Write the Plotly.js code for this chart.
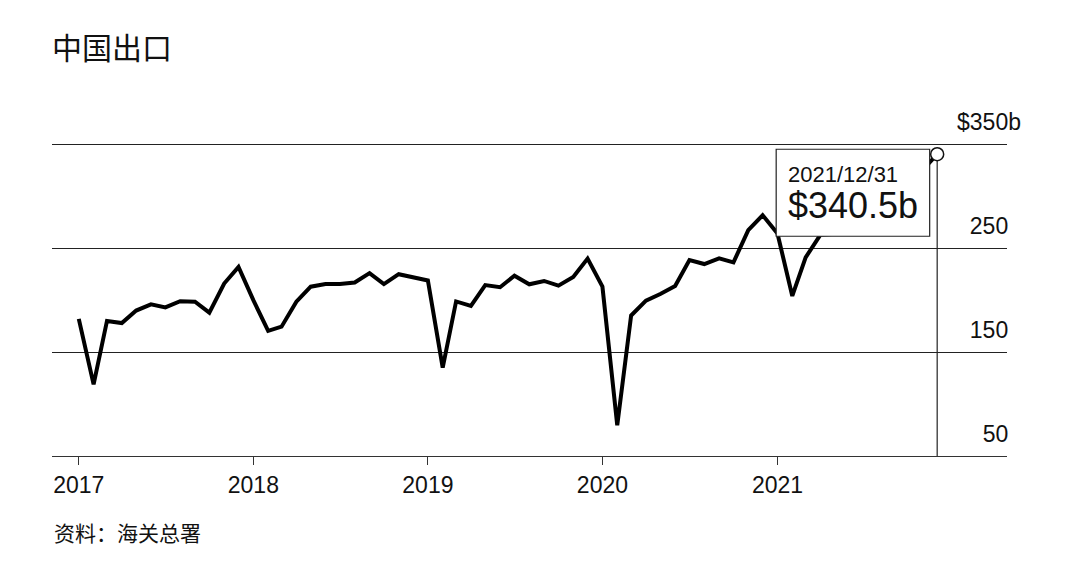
<!DOCTYPE html>
<html>
<head>
<meta charset="utf-8">
<script src="https://cdn.plot.ly/plotly-3.0.1.min.js"></script>
<style>html,body{margin:0;padding:0;background:#fff;}#chart{width:1080px;height:573px;}</style>
</head>
<body>
<div id="chart"></div>
<script>
// Monthly China exports, US$ billion, starting January 2017
const startYear = 2017;
const exportsBn = [
  182.0, 119.0, 180.0, 178.0, 190.0, 196.0, 193.0, 199.0, 198.5, 188.0, 216.0, 232.0,
  200.0, 170.5, 174.5, 198.5, 213.0, 215.5, 215.5, 217.0, 226.0, 215.5, 225.0, 222.0,
  219.0, 135.0, 198.8, 194.5, 214.5, 212.5, 223.5, 215.3, 218.5, 214.0, 222.3, 240.0,
  213.0,  79.6, 185.2, 199.6, 206.0, 213.7, 238.6, 234.8, 240.2, 236.4, 267.4, 281.8,
  264.2, 204.1, 241.2, 263.0, 264.0, 281.0, 283.0, 294.0, 305.7, 300.0, 325.5, 340.5
];
const yTickVals = [50, 150, 250, 350];
const yTickText = ['50\u2007', '150\u2007', '250\u2007', '$350b'];
const xTickYears = [2017, 2018, 2019, 2020, 2021];
const titleText = '中国出口';
const sourceText = '资料：海关总署';

const pad = n => String(n).padStart(2, '0');
const dates = exportsBn.map((_, i) => {
  const y = startYear + Math.floor(i / 12), m = (i % 12) + 1;
  return y + '-' + pad(m) + '-01';
});
const lastIdx = exportsBn.length - 1;
const lastDate = dates[lastIdx];
const lastVal = exportsBn[lastIdx];
const ly = startYear + Math.floor(lastIdx / 12), lm = (lastIdx % 12) + 1;
const lastDay = new Date(ly, lm, 0).getDate();
const lastLabel = ly + '/' + lm + '/' + lastDay;

const latin = '"Liberation Sans", Arial, "Noto Sans CJK SC", sans-serif';
const cjk = '"Noto Sans CJK SC", "Liberation Sans", sans-serif';

const traces = [
  {
    x: dates, y: exportsBn, type: 'scatter', mode: 'lines',
    line: {color: '#000', width: 4, shape: 'linear'},
    hoverinfo: 'skip'
  },
  {
    x: [lastDate], y: [lastVal], type: 'scatter', mode: 'markers',
    marker: {size: 13, color: '#fff', line: {color: '#111', width: 1.5}},
    hoverinfo: 'skip'
  }
];

const layout = {
  width: 1080, height: 573,
  margin: {l: 52, r: 73, t: 107.5, b: 116.5},
  paper_bgcolor: '#fff', plot_bgcolor: '#fff',
  showlegend: false,
  title: {
    text: titleText, font: {family: cjk, size: 30, color: '#111'},
    xref: 'paper', x: 0, xanchor: 'left',
    yref: 'container', y: 1 - 48 / 573, yanchor: 'middle'
  },
  xaxis: {
    type: 'date',
    range: ['2016-11-06', '2022-04-26'],
    tickvals: xTickYears.map(y => y + '-01-01'),
    ticktext: xTickYears.map(String),
    ticks: 'outside', ticklen: 8, tickwidth: 1.2, tickcolor: '#333',
    showline: true, linecolor: '#333', linewidth: 1.2,
    showgrid: false, zeroline: false,
    tickfont: {family: latin, size: 23, color: '#111'},
    fixedrange: true
  },
  yaxis: {
    range: [50, 385],
    side: 'right',
    tickvals: yTickVals, ticktext: yTickText,
    ticklabelposition: 'inside top',
    ticklabelshift: -6,
    ticklabelstandoff: -17,
    ticks: '', showline: false,
    showgrid: true, gridcolor: '#222', gridwidth: 1.2,
    zeroline: false,
    tickfont: {family: latin, size: 23, color: '#111'},
    fixedrange: true
  },
  shapes: [
    {
      type: 'line', layer: 'below', xref: 'x', yref: 'y',
      x0: lastDate, x1: lastDate, y0: 50, y1: lastVal,
      line: {color: '#222', width: 1.2}
    },
    {
      type: 'rect', layer: 'above',
      xref: 'x', xsizemode: 'pixel', xanchor: lastDate, x0: -161, x1: -7.5,
      yref: 'y', ysizemode: 'pixel', yanchor: lastVal, y0: -82, y1: 5,
      fillcolor: '#fff', line: {color: '#222', width: 1.2}
    }
  ],
  annotations: [
    {
      xref: 'x', yref: 'y', x: lastDate, y: lastVal, showarrow: false,
      xanchor: 'left', yanchor: 'middle', xshift: -151, yshift: -20,
      text: lastLabel, font: {family: latin, size: 22, color: '#111'}
    },
    {
      xref: 'x', yref: 'y', x: lastDate, y: lastVal, showarrow: false,
      xanchor: 'left', yanchor: 'middle', xshift: -151, yshift: -51,
      text: '$' + lastVal + 'b', font: {family: latin, size: 36, color: '#111'}
    },
    {
      xref: 'paper', yref: 'paper', x: 0, y: -0.2192, showarrow: false,
      xanchor: 'left', yanchor: 'middle',
      text: sourceText, font: {family: cjk, size: 21, color: '#111'}
    }
  ]
};

Plotly.newPlot('chart', traces, layout, {displayModeBar: false, staticPlot: true});
</script>
</body>
</html>
